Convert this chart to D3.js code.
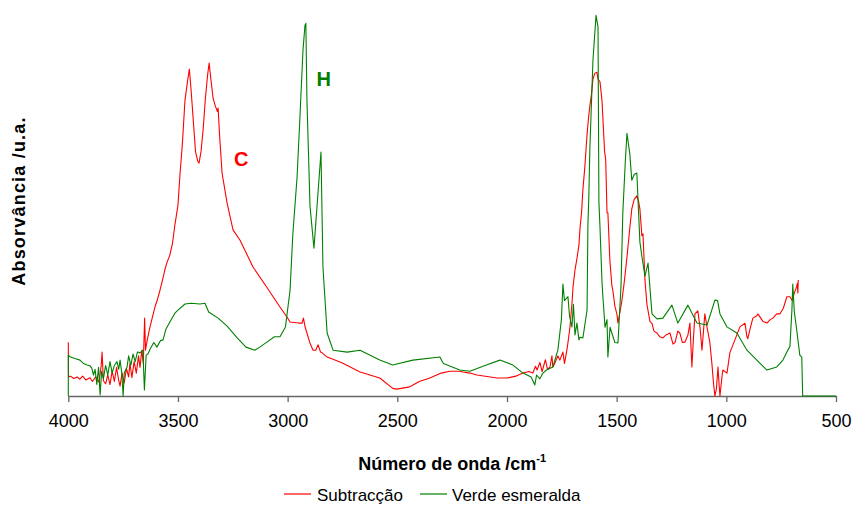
<!DOCTYPE html>
<html>
<head>
<meta charset="utf-8">
<script src="https://cdn.jsdelivr.net/npm/d3@7"></script>
<style>
  html, body { margin: 0; padding: 0; background: #fff; }
  svg text { font-family: Arial, "Liberation Sans", sans-serif; }
</style>
</head>
<body>
<svg id="chart" width="856" height="507"></svg>
<script>
// FTIR absorbance spectra (arbitrary units), wavenumber in cm-1
const seriesNames = ["Subtracção", "Verde esmeralda"];
const seriesColors = ["#ff0000", "#008000"];
const xTicks = [4000, 3500, 3000, 2500, 2000, 1500, 1000, 500];

// [wavenumber, absorbance]
const subtraccao = [
  [4000,14.1],[3999,5.0],[3990,5.2],[3975,4.6],[3960,5.0],[3947,4.4],[3935,5.2],[3920,4.2],
  [3901,4.8],[3890,3.8],[3875,5.0],[3860,3.6],[3850,8.0],[3846,11.5],[3840,4.0],[3830,3.2],
  [3820,5.5],[3810,3.0],[3800,6.5],[3790,3.8],[3780,7.5],[3770,4.0],[3764,2.6],[3755,6.0],
  [3745,3.4],[3735,7.2],[3725,5.0],[3719,8.5],[3710,4.8],[3700,9.0],[3690,6.0],[3680,10.5],
  [3673,7.5],[3665,12.0],[3658,8.5],[3652,20.4],[3648,12.0],[3640,14.7],[3628,18.0],[3615,21.0],
  [3605,23.3],[3595,25.0],[3582,27.7],[3570,30.5],[3560,33.0],[3550,35.0],[3537,36.9],[3525,40.0],
  [3514,44.8],[3500,50.0],[3491,57.9],[3480,66.0],[3468,77.5],[3455,83.0],[3448,85.6],[3440,80.0],
  [3430,72.0],[3420,64.0],[3410,61.5],[3404,61.0],[3395,64.0],[3385,70.0],[3375,78.0],[3365,84.0],
  [3358,87.2],[3350,83.0],[3340,78.0],[3330,76.0],[3320,74.5],[3317,75.4],[3310,68.0],[3299,58.4],
  [3276,50.5],[3249,43.5],[3217,40.8],[3158,33.8],[3095,28.5],[3035,23.3],[3003,20.7],[2989,19.4],
  [2950,19.1],[2934,19.1],[2928,20.4],[2920,18.0],[2912,16.5],[2898,13.8],[2884,12.0],[2872,12.0],
  [2861,13.4],[2850,11.5],[2843,11.3],[2820,10.2],[2793,9.6],[2748,8.6],[2670,6.3],[2580,4.7],
  [2521,2.0],[2502,1.8],[2443,2.4],[2400,3.8],[2352,4.7],[2300,6.0],[2261,6.5],[2215,6.5],
  [2201,6.3],[2169,6.0],[2137,5.5],[2046,4.7],[2000,4.7],[1960,5.2],[1927,6.0],[1900,6.4],
  [1882,6.0],[1870,7.8],[1863,6.8],[1850,8.8],[1840,6.4],[1825,9.5],[1815,7.0],[1804,7.6],
  [1795,10.5],[1791,7.6],[1780,8.8],[1768,10.5],[1759,9.4],[1745,11.5],[1738,8.5],[1727,12.0],
  [1722,14.0],[1713,18.0],[1704,24.0],[1699,28.5],[1690,33.0],[1681,36.0],[1672,39.5],[1667,44.0],
  [1660,48.0],[1654,54.0],[1645,60.0],[1635,68.5],[1628,73.0],[1622,76.0],[1615,79.0],[1608,83.0],
  [1600,84.5],[1590,84.8],[1585,83.0],[1576,82.3],[1567,77.5],[1563,73.0],[1555,64.0],[1550,62.0],
  [1544,48.0],[1540,48.0],[1531,35.6],[1522,29.0],[1517,27.5],[1508,23.5],[1499,21.5],[1494,19.1],
  [1485,22.0],[1476,25.0],[1465,30.0],[1453,36.4],[1440,44.0],[1431,49.0],[1420,51.5],[1408,52.4],
  [1400,51.0],[1394,49.0],[1385,42.0],[1380,42.5],[1371,30.4],[1362,24.0],[1348,19.5],[1339,19.0],
  [1330,17.0],[1316,16.5],[1303,15.5],[1289,15.2],[1275,16.0],[1257,16.5],[1243,13.6],[1234,14.0],
  [1221,17.0],[1212,16.5],[1200,14.0],[1189,14.1],[1175,16.0],[1166,19.1],[1157,7.6],[1150,15.0],
  [1143,21.5],[1130,22.3],[1120,18.0],[1111,12.0],[1098,21.5],[1088,18.0],[1075,14.0],[1066,8.6],
  [1058,3.0],[1052,0.0],[1045,2.0],[1038,7.6],[1033,3.0],[1029,0.0],[1020,5.0],[1016,6.8],
  [997,6.0],[984,11.3],[961,14.7],[938,18.1],[915,19.1],[906,15.5],[902,15.0],[890,18.0],
  [879,20.4],[861,21.0],[856,21.5],[834,19.6],[815,19.1],[800,20.0],[788,20.4],[770,21.5],
  [756,21.5],[740,23.0],[724,26.0],[715,26.0],[710,26.0],[700,25.0],[690,27.0],[683,28.0],
  [676,29.5],[674,27.0],[672,30.4]
];

const verdeEsmeralda = [
  [4000,0],[4000,10.7],[3990,10.2],[3970,9.8],[3947,9.4],[3930,8.5],[3915,8.1],[3901,7.9],
  [3893,7.3],[3885,5.5],[3878,7.0],[3870,3.0],[3862,7.5],[3855,0.3],[3848,6.5],[3840,4.5],
  [3830,8.0],[3820,5.5],[3810,9.0],[3800,6.0],[3790,8.0],[3778,9.0],[3770,7.0],[3764,9.4],
  [3756,6.0],[3750,0.0],[3745,6.0],[3732,7.6],[3725,10.5],[3715,8.0],[3705,11.0],[3695,9.0],
  [3685,11.5],[3673,11.3],[3660,12.0],[3653,1.6],[3645,10.7],[3637,11.0],[3625,12.5],[3610,14.0],
  [3596,12.8],[3580,14.5],[3568,14.7],[3555,17.5],[3537,19.4],[3514,21.7],[3500,22.5],[3468,24.1],
  [3440,24.3],[3400,24.1],[3377,24.3],[3360,22.0],[3317,20.4],[3276,18.3],[3230,15.2],[3190,12.8],
  [3150,12.0],[3127,12.8],[3095,14.1],[3060,15.5],[3035,15.5],[3010,18.1],[2989,27.7],[2976,42.7],
  [2957,57.3],[2944,73.0],[2930,90.6],[2921,97.1],[2917,97.6],[2912,77.5],[2898,49.7],[2880,38.7],
  [2866,49.7],[2848,63.9],[2839,33.8],[2820,16.5],[2793,12.0],[2729,11.5],[2670,12.0],[2580,9.4],
  [2521,8.1],[2429,9.4],[2306,10.2],[2290,8.5],[2215,6.8],[2169,6.5],[2100,8.0],[2032,9.4],
  [1973,8.1],[1927,6.0],[1890,5.0],[1873,2.9],[1865,5.5],[1850,4.5],[1836,6.0],[1820,6.8],
  [1791,7.6],[1768,12.0],[1752,20.0],[1745,29.3],[1738,25.0],[1722,26.0],[1715,21.0],[1704,18.1],
  [1697,24.0],[1690,16.0],[1681,19.1],[1672,14.7],[1667,15.4],[1654,15.2],[1635,22.5],[1631,45.0],
  [1627,52.0],[1622,65.0],[1608,88.0],[1594,99.7],[1585,96.6],[1581,51.0],[1576,44.2],[1567,30.0],
  [1563,26.2],[1553,18.0],[1544,20.0],[1540,10.2],[1530,18.0],[1522,16.5],[1508,14.0],[1494,13.9],
  [1480,29.0],[1472,47.9],[1460,62.0],[1453,68.8],[1440,63.4],[1431,56.5],[1420,58.0],[1408,58.4],
  [1394,40.3],[1385,36.6],[1371,31.4],[1357,34.8],[1339,21.5],[1316,20.2],[1289,20.4],[1248,23.8],
  [1221,19.1],[1175,23.8],[1134,19.1],[1088,18.6],[1052,25.1],[1040,25.0],[1029,21.5],[997,18.1],
  [952,16.5],[906,12.0],[861,9.4],[815,6.8],[770,7.6],[742,9.4],[720,12.0],[710,13.0],
  [701,22.5],[697,29.3],[690,22.0],[679,17.3],[665,10.7],[656,10.2],[652,0],[500,0]
];

const svg = d3.select("#chart");
const plot = { left: 68.3, right: 836, top: 14.2, bottom: 396 };

const x = d3.scaleLinear().domain([4000, 500]).range([plot.left, plot.right]);
const y = d3.scaleLinear().domain([0, 100]).range([plot.bottom, plot.top]);

// x axis
const xAxis = d3.axisBottom(x)
  .tickValues(xTicks)
  .tickFormat(d3.format("d"))
  .tickSize(6)
  .tickSizeOuter(0)
  .tickPadding(12);

const gx = svg.append("g")
  .attr("transform", `translate(0,${plot.bottom})`)
  .call(xAxis);
gx.select(".domain").attr("stroke", "#666").attr("stroke-width", 1.3);
gx.selectAll(".tick line").attr("stroke", "#666").attr("stroke-width", 1.3);
gx.selectAll(".tick text")
  .attr("font-size", 18)
  .attr("fill", "#000")
  .attr("font-family", "Arial, 'Liberation Sans', sans-serif");

// spectra
const line = d3.line()
  .x(d => x(d[0]))
  .y(d => y(d[1]));

[subtraccao, verdeEsmeralda].forEach((data, i) => {
  svg.append("path")
    .datum(data)
    .attr("fill", "none")
    .attr("stroke", seriesColors[i])
    .attr("stroke-width", 1.1)
    .attr("stroke-linejoin", "round")
    .attr("d", line);
});

// band annotations
svg.append("text")
  .attr("x", x(3245)).attr("y", 166)
  .attr("font-size", 20).attr("font-weight", "bold")
  .attr("fill", "#ff0000")
  .text("C");

svg.append("text")
  .attr("x", x(2868)).attr("y", 86)
  .attr("font-size", 20).attr("font-weight", "bold")
  .attr("fill", "#008000")
  .text("H");

// axis titles
const xTitle = svg.append("text")
  .attr("x", (plot.left + plot.right) / 2)
  .attr("y", 470)
  .attr("text-anchor", "middle")
  .attr("font-size", 18)
  .attr("font-weight", "bold")
  .attr("fill", "#000");
xTitle.append("tspan").text("Número de onda /cm");
xTitle.append("tspan").attr("font-size", 11).attr("dy", -8).text("-1");

svg.append("text")
  .attr("transform", "translate(25,201) rotate(-90)")
  .attr("text-anchor", "middle")
  .attr("font-size", 18)
  .attr("font-weight", "bold")
  .attr("letter-spacing", 1.2)
  .attr("fill", "#000")
  .text("Absorvância /u.a.");

// legend
const legendItems = [
  { name: seriesNames[0], color: seriesColors[0], lx: 284, tx: 317 },
  { name: seriesNames[1], color: seriesColors[1], lx: 420, tx: 452 }
];
const legend = svg.append("g");
legendItems.forEach(item => {
  legend.append("line")
    .attr("x1", item.lx).attr("x2", item.lx + 27)
    .attr("y1", 494).attr("y2", 494)
    .attr("stroke", item.color).attr("stroke-width", 1.2);
  legend.append("text")
    .attr("x", item.tx).attr("y", 501)
    .attr("font-size", 17)
    .attr("fill", "#000")
    .text(item.name);
});
</script>
</body>
</html>
